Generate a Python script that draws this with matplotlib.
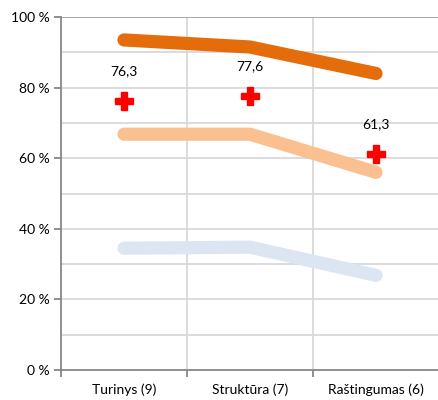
import matplotlib
matplotlib.use('Agg')
import matplotlib.pyplot as plt
import numpy as np

categories = ['Turinys (9)', 'Struktūra (7)', 'Raštingumas (6)']
top_line = [93.5, 91.5, 84.0]
mid_line = [66.8, 66.8, 56.0]
low_line = [34.5, 34.8, 26.8]
average = [76.3, 77.6, 61.3]
average_labels = ['76,3', '77,6', '61,3']

plt.rcParams['font.family'] = ['Lato', 'DejaVu Sans']

fig = plt.figure(figsize=(4.39, 4.00), dpi=100)
ax = fig.add_axes([61 / 439, 0.075, 1 - 61 / 439, 0.8825])

x = np.arange(len(categories))

# grid every 10 %, vertical lines between the categories
for yv in np.arange(10, 101, 10):
    ax.axhline(yv, color='#d9d9d9', lw=1.3, zorder=0)
for xv in [0.5, 1.5, 2.5]:
    ax.axvline(xv, color='#d9d9d9', lw=1.3, zorder=0)
ax.axhline(100, color='#a6a6a6', lw=1.3, zorder=1)

ax.plot(x, top_line, color='#e46c0a', lw=9.5, solid_capstyle='round', solid_joinstyle='round', zorder=2)
ax.plot(x, mid_line, color='#fac090', lw=9.5, solid_capstyle='round', solid_joinstyle='round', zorder=2)
ax.plot(x, low_line, color='#dce6f2', lw=9.5, solid_capstyle='round', solid_joinstyle='round', zorder=2)
ax.plot(x, average, linestyle='none', marker='P', ms=13.5, color='#ff0000', mec='#ff0000', zorder=3)

for xi, val, lab in zip(x, average, average_labels):
    ax.annotate(lab, (xi, val), xytext=(0, 21.5), textcoords='offset points',
                ha='center', va='center', fontsize=10, color='black')

ax.set_xlim(-0.5, 2.476)
ax.set_ylim(0, 100)
ax.set_yticks(np.arange(0, 101, 20))
ax.set_yticklabels(['%d %%' % v for v in range(0, 101, 20)], fontsize=10)
ax.set_xticks(x)
ax.set_xticklabels(categories, fontsize=10)
ax.set_xticks([-0.5, 0.5, 1.5, 2.5], minor=True)
ax.tick_params(axis='x', which='major', length=0, pad=10)
ax.tick_params(axis='x', which='minor', length=5, color='#868686', width=1.3, direction='out')
ax.tick_params(axis='y', length=5, color='#868686', width=1.3, direction='out', pad=3)

for side in ['top', 'right']:
    ax.spines[side].set_visible(False)
for side in ['left', 'bottom']:
    ax.spines[side].set_color('#868686')
    ax.spines[side].set_linewidth(1.3)

fig.savefig('out.png', dpi=100)
